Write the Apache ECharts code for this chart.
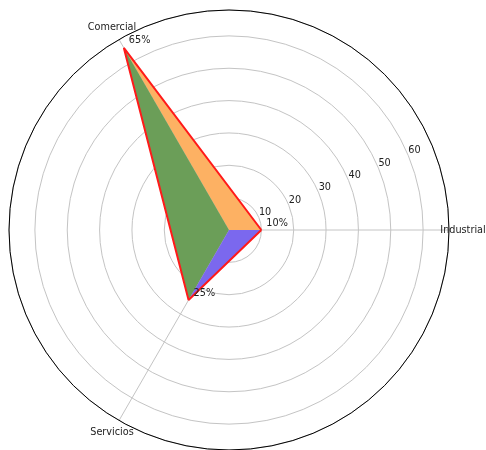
<!DOCTYPE html>
<html>
<head>
<meta charset="utf-8">
<script src="https://cdn.jsdelivr.net/npm/echarts@6/dist/echarts.min.js"></script>
<style>html,body{margin:0;padding:0;background:#fff;}#c{width:486px;height:450px;}</style>
</head>
<body>
<div id="c"></div>
<script>
const categories = ['Industrial', 'Comercial', 'Servicios'];
const angles = [0, 120, 240];
const values = [10, 65, 25];
const percentLabels = ['10%', '65%', '25%'];
const orangeValues = [10, 65, 0];
const greenValues = [0, 65, 25];
const blueValues = [10, 0, 25];
const radialTicks = [10, 20, 30, 40, 50, 60];
const radialMax = 68;

const FONT = 'DejaVu Sans';
const TXT = '#222';
const LABEL_PAD = 14; // px outside the outer circle

function polySeries(vals, color) {
  return {
    type: 'custom', coordinateSystem: 'polar', silent: true, z: 2,
    data: [[0, 0]],
    renderItem: function (params, api) {
      const pts = vals.map((v, i) => api.coord([v, angles[i]]));
      return { type: 'polygon', shape: { points: pts }, style: { fill: color, stroke: null } };
    }
  };
}

const outline = values.map((v, i) => [v, angles[i]]);
outline.push([values[0], 360]);

const chart = echarts.init(document.getElementById('c'), null, { renderer: 'canvas' });
chart.setOption({
  backgroundColor: '#fff',
  animation: false,
  polar: { center: [229, 230], radius: 220 },
  angleAxis: {
    type: 'value', min: 0, max: 360, interval: 120,
    startAngle: 0, clockwise: false,
    axisLine: { show: true, lineStyle: { color: '#000', width: 1 } },
    axisTick: { show: false },
    axisLabel: { show: false },
    splitLine: { show: true, lineStyle: { color: '#c4c4c4', width: 1 } }
  },
  radiusAxis: {
    type: 'value', min: 0, max: radialMax, interval: 10,
    axisLine: { show: false }, axisTick: { show: false }, axisLabel: { show: false },
    splitLine: { show: true, lineStyle: { color: '#c4c4c4', width: 1 } }
  },
  series: [
    polySeries(orangeValues, '#fdb163'),
    polySeries(greenValues, '#6b9e58'),
    polySeries(blueValues, '#7b68ee'),
    {
      type: 'line', coordinateSystem: 'polar', data: outline, symbol: 'none', z: 3,
      lineStyle: { color: '#ff1a1a', width: 2 }, silent: true
    },
    {
      type: 'custom', coordinateSystem: 'polar', silent: true, z: 4,
      data: values.map((v, i) => [v, angles[i]]),
      renderItem: function (params, api) {
        const p = api.coord([api.value(0), api.value(1)]);
        return { type: 'text', x: p[0] + 5, y: p[1] - 2,
          style: { text: percentLabels[params.dataIndex], fill: TXT, font: '9.7px "DejaVu Sans"', align: 'left', verticalAlign: 'bottom' } };
      }
    },
    {
      type: 'custom', coordinateSystem: 'polar', silent: true, z: 4,
      data: radialTicks.map(r => [r, 22.5]),
      renderItem: function (params, api) {
        const p = api.coord([api.value(0), api.value(1)]);
        return { type: 'text', x: p[0], y: p[1],
          style: { text: String(api.value(0)), fill: TXT, font: '9.7px "DejaVu Sans"', align: 'left', verticalAlign: 'bottom' } };
      }
    },
    {
      type: 'custom', coordinateSystem: 'polar', silent: true, z: 4,
      data: categories.map((c, i) => [radialMax, angles[i]]),
      renderItem: function (params, api) {
        const p = api.coord([api.value(0), api.value(1)]);
        const c = api.coord([0, 0]);
        const dx = p[0] - c[0], dy = p[1] - c[1];
        const len = Math.sqrt(dx * dx + dy * dy) || 1;
        return { type: 'text', x: p[0] + dx / len * LABEL_PAD, y: p[1] + dy / len * LABEL_PAD,
          style: { text: categories[params.dataIndex], fill: TXT, font: '9.7px "DejaVu Sans"', align: 'center', verticalAlign: 'middle' } };
      }
    }
  ]
});
</script>
</body>
</html>
